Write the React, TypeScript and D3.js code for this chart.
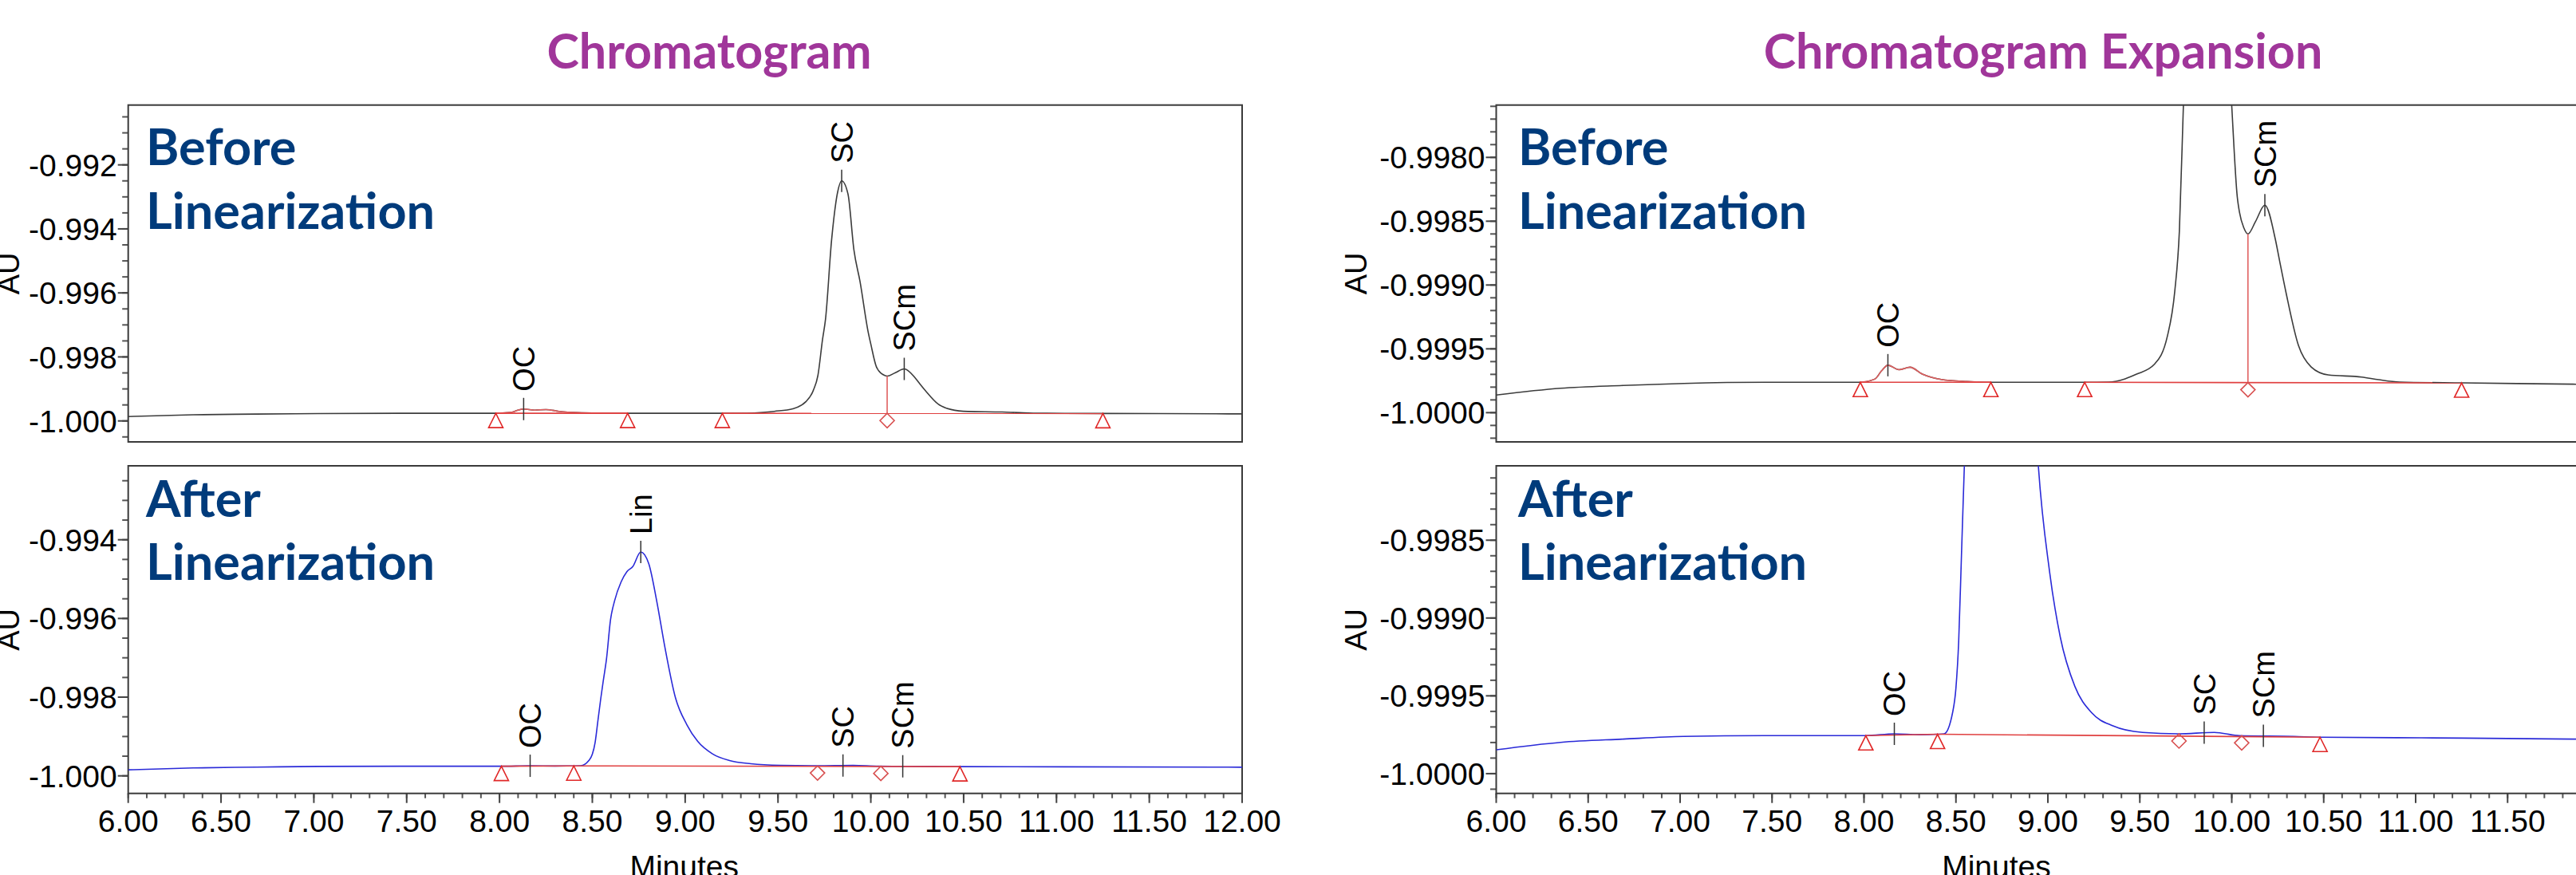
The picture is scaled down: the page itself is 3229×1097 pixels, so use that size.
import React, { useEffect, useRef } from "react";
import * as d3 from "d3";

const WIDTH = 3229;
const HEIGHT = 1097;

// ---- trace readings (minutes, AU) ----
const beforeTime = [
  6.0, 6.35, 6.69, 7.02, 7.46, 7.98, 8.06, 8.095, 8.13, 8.19, 8.25, 8.32, 8.42,
  8.56, 8.69, 9.2, 9.33, 9.42, 9.48, 9.58, 9.65, 9.69, 9.715, 9.74, 9.756,
  9.789, 9.822, 9.843, 9.877, 9.909, 9.942, 9.986, 10.0, 10.03, 10.042, 10.065,
  10.088, 10.13, 10.18, 10.237, 10.26, 10.295, 10.363, 10.432, 10.524, 10.707,
  10.8, 10.913, 11.258, 11.855, 12.0,
];
const beforeAU = [
  -0.999862, -0.999809, -0.999787, -0.999771, -0.999762, -0.999762, -0.999736,
  -0.999673, -0.999628, -0.999663, -0.999644, -0.9997, -0.99974, -0.999756,
  -0.999762, -0.999762, -0.99976, -0.999735, -0.9997, -0.99962, -0.9994,
  -0.99905, -0.99858, -0.99745, -0.99682, -0.99433, -0.99283, -0.9925,
  -0.99291, -0.99466, -0.99565, -0.99723, -0.9976, -0.99831, -0.99843,
  -0.99855, -0.9986, -0.9985, -0.998375, -0.998642, -0.99881, -0.999059,
  -0.999475, -0.999642, -0.999704, -0.999721, -0.999742, -0.99976, -0.999767,
  -0.999777, -0.99978,
];

const afterTime = [
  6.0, 6.35, 6.69, 7.02, 7.46, 8.01, 8.165, 8.3, 8.4, 8.436, 8.482, 8.5, 8.515,
  8.53, 8.545, 8.56, 8.576, 8.598, 8.62, 8.655, 8.686, 8.718, 8.761, 8.804,
  8.848, 8.89, 8.948, 9.009, 9.067, 9.147, 9.239, 9.354, 9.515, 9.71, 9.905,
  10.042, 10.34, 10.48, 11.03, 11.855, 12.0,
];
const afterAU = [
  -0.999847, -0.999799, -0.999778, -0.999761, -0.999756, -0.999756, -0.999744,
  -0.99975, -0.999747, -0.999744, -0.999607, -0.99945, -0.99915, -0.9986,
  -0.99805, -0.99755, -0.99704, -0.99603, -0.99555, -0.99507, -0.99481,
  -0.99468, -0.99431, -0.99461, -0.99559, -0.99671, -0.99802, -0.9987,
  -0.99912, -0.99944, -0.99961, -0.999693, -0.999735, -0.999744, -0.999735,
  -0.999756, -0.999761, -0.999766, -0.99977, -0.999778, -0.99978,
];

// integration marks
const beforeTriangleTime = [7.98, 8.69, 9.2, 11.25];
const beforeTriangleAU = [-0.999762, -0.999762, -0.999762, -0.999767];
const beforeDiamondTime = [10.088];
const beforeDiamondAU = [-0.999764];
const beforeDropTop = [-0.9986];
const beforeBaseStart = [7.98, 9.2];
const beforeBaseEnd = [8.69, 11.25];
const beforeBaseStartAU = [-0.999762, -0.999762];
const beforeBaseEndAU = [-0.999762, -0.999767];

const afterTriangleTime = [8.01, 8.4, 10.48];
const afterTriangleAU = [-0.999756, -0.999747, -0.999766];
const afterDiamondTime = [9.713, 10.054];
const afterDiamondAU = [-0.999744, -0.999756];
const afterBaseStart = [8.01, 8.4];
const afterBaseEnd = [8.4, 10.48];
const afterBaseStartAU = [-0.999756, -0.999747];
const afterBaseEndAU = [-0.999747, -0.999766];

// peak names
const beforePeakName = ["OC", "SC", "SCm"];
const beforePeakTime = [8.13, 9.843, 10.18];
const beforePeakAU = [-0.999628, -0.9925, -0.998375];
const afterPeakName = ["OC", "Lin", "SC", "SCm"];
const afterPeakTime = [8.165, 8.761, 9.85, 10.172];
const afterPeakAU = [-0.999744, -0.99431, -0.999737, -0.999757];

// axes
const xTicks = [6, 6.5, 7, 7.5, 8, 8.5, 9, 9.5, 10, 10.5, 11, 11.5, 12];
const yTicksBefore = [-1.0, -0.998, -0.996, -0.994, -0.992];
const yTicksAfter = [-1.0, -0.998, -0.996, -0.994];
const yTicksBeforeExp = [-1.0, -0.9995, -0.999, -0.9985, -0.998];
const yTicksAfterExp = [-1.0, -0.9995, -0.999, -0.9985];

const titles = ["Chromatogram", "Chromatogram Expansion"];

const NUM_FONT = "'Liberation Sans', Arial, sans-serif";
const TICK_FONT = "'Liberation Sans Narrow', 'Arial Narrow', 'Liberation Sans', sans-serif";
const HEAD_FONT = "Lato, 'Open Sans', sans-serif";

// plain hyphen for negatives, as the instrument software prints them
const locale = d3.formatLocale({
  decimal: ".",
  thousands: ",",
  grouping: [3],
  currency: ["", ""],
  minus: "-",
});

const App: React.FC = () => {
  const svgRef = useRef<SVGSVGElement | null>(null);

  useEffect(() => {
    if (!svgRef.current) return;
    const svg = d3.select(svgRef.current);
    svg.selectAll("*").remove();
    const defs = svg.append("defs");

    const zip = (t: number[], v: number[]) => t.map((d, i) => [d, v[i]] as [number, number]);
    const traces: any = {
      before: {
        points: zip(beforeTime, beforeAU),
        color: "#3c3c3c",
        triangles: zip(beforeTriangleTime, beforeTriangleAU),
        diamonds: zip(beforeDiamondTime, beforeDiamondAU),
        drops: beforeDiamondTime.map((t, i) => [t, beforeDropTop[i], beforeDiamondAU[i]]),
        bases: beforeBaseStart.map((t, i) => [
          [t, beforeBaseStartAU[i]],
          [beforeBaseEnd[i], beforeBaseEndAU[i]],
        ]),
        redRange: [7.98, 8.69],
        peaks: beforePeakName.map((n, i) => ({ n, t: beforePeakTime[i], v: beforePeakAU[i] })),
        heading: ["Before", "Linearization"],
      },
      after: {
        points: zip(afterTime, afterAU),
        color: "#2a2ad8",
        triangles: zip(afterTriangleTime, afterTriangleAU),
        diamonds: zip(afterDiamondTime, afterDiamondAU),
        drops: [],
        bases: afterBaseStart.map((t, i) => [
          [t, afterBaseStartAU[i]],
          [afterBaseEnd[i], afterBaseEndAU[i]],
        ]),
        redRange: null,
        peaks: afterPeakName.map((n, i) => ({ n, t: afterPeakTime[i], v: afterPeakAU[i] })),
        heading: ["After", "Linearization"],
      },
    };

    const cols = [
      { left: 160.7, right: 1557, axisLabelX: 24, headX: 183, title: titles[0], titleX: 889 },
      { left: 1875.5, right: 3258.5, axisLabelX: 1713, headX: 1903, title: titles[1], titleX: 2561 },
    ];
    const panels = [
      { col: 0, top: 131.7, bottom: 554, domain: [-1.000655, -0.990131], major: yTicksBefore, step: 0.0005, fmt: ".3f", trace: "before", xAxis: false, headY: [206.7, 286.7] },
      { col: 1, top: 131.7, bottom: 554, domain: [-1.000229, -0.99759], major: yTicksBeforeExp, step: 0.0001, fmt: ".4f", trace: "before", xAxis: false, headY: [206.7, 286.7] },
      { col: 0, top: 584, bottom: 994.7, domain: [-1.000446, -0.992121], major: yTicksAfter, step: 0.0005, fmt: ".3f", trace: "after", xAxis: true, headY: [648, 727] },
      { col: 1, top: 584, bottom: 994.7, domain: [-1.000127, -0.998022], major: yTicksAfterExp, step: 0.0001, fmt: ".4f", trace: "after", xAxis: true, headY: [648, 727] },
    ];

    // titles
    cols.forEach((c) => {
      svg
        .append("text")
        .attr("x", c.titleX)
        .attr("y", 86)
        .attr("text-anchor", "middle")
        .style("font-family", HEAD_FONT)
        .style("font-weight", 700)
        .style("font-size", "61px")
        .style("fill", "#a0369a")
        .text(c.title);
    });

    panels.forEach((p, pi) => {
      const c = cols[p.col];
      const tr = traces[p.trace];
      const x = d3.scaleLinear().domain([6, 12]).range([c.left, c.right]);
      const y = d3.scaleLinear().domain(p.domain).range([p.bottom, p.top]);
      const g = svg.append("g");

      const clipId = `plot-clip-${pi}`;
      defs
        .append("clipPath")
        .attr("id", clipId)
        .append("rect")
        .attr("x", c.left)
        .attr("y", p.top)
        .attr("width", c.right - c.left)
        .attr("height", p.bottom - p.top);

      // y ticks
      const [dLo, dHi] = p.domain;
      const minor = d3
        .range(Math.ceil(dLo / p.step - 1e-6), Math.floor(dHi / p.step + 1e-6) + 1)
        .map((k) => k * p.step);
      g.selectAll(".ymin")
        .data(minor)
        .enter()
        .append("line")
        .attr("x1", c.left - 7.5)
        .attr("x2", c.left)
        .attr("y1", (d) => y(d))
        .attr("y2", (d) => y(d))
        .attr("stroke", "#555")
        .attr("stroke-width", 2);
      g.selectAll(".ymaj")
        .data(p.major)
        .enter()
        .append("line")
        .attr("x1", c.left - 13)
        .attr("x2", c.left)
        .attr("y1", (d) => y(d))
        .attr("y2", (d) => y(d))
        .attr("stroke", "#444")
        .attr("stroke-width", 2);
      g.selectAll(".ylab")
        .data(p.major)
        .enter()
        .append("text")
        .attr("x", c.left - 14)
        .attr("y", (d) => y(d))
        .attr("dy", "0.36em")
        .attr("text-anchor", "end")
        .style("font-family", TICK_FONT)
        .style("font-size", "39px")
        .style("fill", "#000")
        .text((d) => locale.format(p.fmt)(d));

      // AU label
      g.append("text")
        .attr("transform", `translate(${c.axisLabelX},${(p.top + p.bottom) / 2}) rotate(-90)`)
        .attr("text-anchor", "middle")
        .style("font-family", NUM_FONT)
        .style("font-size", "38px")
        .text("AU");

      // x axis
      if (p.xAxis) {
        const xMinor = d3.range(60, 121).map((k) => k / 10);
        g.selectAll(".xmin")
          .data(xMinor.filter((t) => x(t) <= WIDTH))
          .enter()
          .append("line")
          .attr("x1", (d) => x(d))
          .attr("x2", (d) => x(d))
          .attr("y1", p.bottom)
          .attr("y2", p.bottom + 6)
          .attr("stroke", "#555")
          .attr("stroke-width", 2);
        const shown = xTicks.filter((t) => x(t) <= WIDTH);
        g.selectAll(".xmaj")
          .data(shown)
          .enter()
          .append("line")
          .attr("x1", (d) => x(d))
          .attr("x2", (d) => x(d))
          .attr("y1", p.bottom)
          .attr("y2", p.bottom + 12)
          .attr("stroke", "#444")
          .attr("stroke-width", 2);
        g.selectAll(".xlab")
          .data(shown)
          .enter()
          .append("text")
          .attr("x", (d) => x(d))
          .attr("y", 1043)
          .attr("text-anchor", "middle")
          .style("font-family", TICK_FONT)
          .style("font-size", "39px")
          .text((d) => locale.format(".2f")(d));
        g.append("text")
          .attr("x", c.left + (p.col === 0 ? 697 : 627))
          .attr("y", 1100)
          .attr("text-anchor", "middle")
          .style("font-family", TICK_FONT)
          .style("font-size", "39px")
          .text("Minutes");
      }

      // frame
      g.append("rect")
        .attr("x", c.left)
        .attr("y", p.top)
        .attr("width", c.right - c.left)
        .attr("height", p.bottom - p.top)
        .attr("fill", "none")
        .attr("stroke", "#3a3a3a")
        .attr("stroke-width", 2);

      const plot = g.append("g").attr("clip-path", `url(#${clipId})`);
      const line = d3
        .line<[number, number]>()
        .x((d) => x(d[0]))
        .y((d) => y(d[1]))
        .curve(d3.curveMonotoneX);

      plot
        .append("path")
        .attr("d", line(tr.points))
        .attr("fill", "none")
        .attr("stroke", tr.color)
        .attr("stroke-width", 1.6);

      if (tr.redRange) {
        const seg = tr.points.filter(
          (d: [number, number]) => d[0] >= tr.redRange[0] && d[0] <= tr.redRange[1],
        );
        plot
          .append("path")
          .attr("d", line(seg))
          .attr("fill", "none")
          .attr("stroke", "#e06060")
          .attr("stroke-width", 1.6);
      }

      // integration baselines
      tr.bases.forEach((b: [number, number][]) => {
        plot
          .append("line")
          .attr("x1", x(b[0][0]))
          .attr("y1", y(b[0][1]))
          .attr("x2", x(b[1][0]))
          .attr("y2", y(b[1][1]))
          .attr("stroke", "#e04040")
          .attr("stroke-width", 1.6);
      });
      tr.drops.forEach((d: number[]) => {
        plot
          .append("line")
          .attr("x1", x(d[0]))
          .attr("x2", x(d[0]))
          .attr("y1", y(d[1]))
          .attr("y2", y(d[2]))
          .attr("stroke", "#e06060")
          .attr("stroke-width", 1.6);
      });

      const tri = (px: number, py: number) =>
        `M${px},${py}L${px + 9},${py + 18}L${px - 9},${py + 18}Z`;
      const dia = (px: number, py: number) =>
        `M${px},${py}L${px + 9},${py + 9}L${px},${py + 18}L${px - 9},${py + 9}Z`;
      tr.triangles.forEach((d: [number, number]) => {
        plot
          .append("path")
          .attr("d", tri(x(d[0]), y(d[1])))
          .attr("fill", "none")
          .attr("stroke", "#e02828")
          .attr("stroke-width", 1.6);
      });
      tr.diamonds.forEach((d: [number, number]) => {
        plot
          .append("path")
          .attr("d", dia(x(d[0]), y(d[1])))
          .attr("fill", "none")
          .attr("stroke", "#d85050")
          .attr("stroke-width", 1.6);
      });

      // peak names
      tr.peaks
        .filter((pk: any) => pk.v >= dLo && pk.v <= dHi && x(pk.t) <= WIDTH)
        .forEach((pk: any) => {
          const px = x(pk.t);
          const py = y(pk.v);
          g.append("line")
            .attr("x1", px)
            .attr("x2", px)
            .attr("y1", py - 14)
            .attr("y2", py + 14)
            .attr("stroke", "#333")
            .attr("stroke-width", 1.5);
          g.append("text")
            .attr("transform", `translate(${px},${py - 22}) rotate(-90)`)
            .attr("dy", "0.36em")
            .attr("text-anchor", "start")
            .style("font-family", NUM_FONT)
            .style("font-size", "38px")
            .text(pk.n);
        });

      // panel heading
      tr.heading.forEach((h: string, i: number) => {
        g.append("text")
          .attr("x", c.headX)
          .attr("y", p.headY[i])
          .style("font-family", HEAD_FONT)
          .style("font-weight", 700)
          .style("font-size", "63px")
          .style("fill", "#003b7b")
          .text(h);
      });
    });
  }, []);

  return (
    <svg
      ref={svgRef}
      width={WIDTH}
      height={HEIGHT}
      style={{ position: "absolute", left: 0, top: 0, background: "#fff" }}
    />
  );
};

export default App;
